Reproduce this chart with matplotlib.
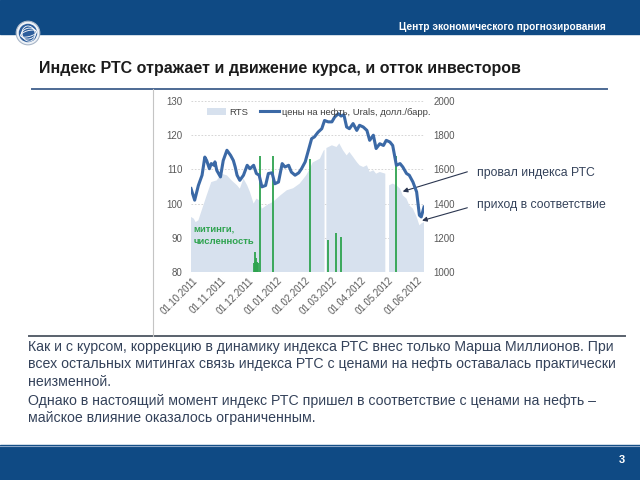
import numpy as np
import matplotlib
matplotlib.use("Agg")
import matplotlib.pyplot as plt
import matplotlib.dates as mdates
from matplotlib.patches import Rectangle, Circle, Ellipse, Patch
from matplotlib.lines import Line2D

plt.rcParams['font.family'] = ['Liberation Sans', 'DejaVu Sans']

# oil price, Urals, $/bbl (left axis)
oil_dates = ["2011-09-26", "2011-09-30", "2011-10-04", "2011-10-08", "2011-10-11", "2011-10-13",
             "2011-10-16", "2011-10-18", "2011-10-21", "2011-10-22", "2011-10-24", "2011-10-28",
             "2011-10-31", "2011-11-04", "2011-11-08", "2011-11-11", "2011-11-13", "2011-11-15",
             "2011-11-18", "2011-11-22", "2011-11-26", "2011-11-29", "2011-12-03", "2011-12-06",
             "2011-12-09", "2011-12-12", "2011-12-16", "2011-12-19", "2011-12-23", "2011-12-26",
             "2011-12-30", "2012-01-03", "2012-01-06", "2012-01-10", "2012-01-13", "2012-01-17",
             "2012-01-21", "2012-01-24", "2012-01-28", "2012-01-31", "2012-02-04", "2012-02-07",
             "2012-02-11", "2012-02-15", "2012-02-18", "2012-02-22", "2012-02-26", "2012-02-29",
             "2012-03-04", "2012-03-07", "2012-03-10", "2012-03-13", "2012-03-16", "2012-03-20",
             "2012-03-24", "2012-03-27", "2012-03-31", "2012-04-04", "2012-04-07", "2012-04-11",
             "2012-04-14", "2012-04-18", "2012-04-22", "2012-04-25", "2012-04-29", "2012-05-02",
             "2012-05-06", "2012-05-10", "2012-05-13", "2012-05-17", "2012-05-20", "2012-05-24",
             "2012-05-28", "2012-05-31", "2012-06-02", "2012-06-05"]
oil_price = [104.4, 101.0, 105.3, 108.3, 113.6, 112.6,
             110.2, 111.7, 111.2, 112.2, 109.7, 107.8,
             112.6, 115.6, 114.1, 112.6, 110.7, 108.3,
             106.8, 108.3, 111.2, 110.2, 111.2, 108.8,
             108.3, 104.9, 105.3, 108.8, 109.0, 105.8,
             106.3, 111.7, 110.7, 111.2, 109.2, 108.3,
             109.0, 110.2, 112.2, 115.1, 119.0, 119.5,
             120.9, 121.9, 124.3, 123.9, 123.9, 125.3,
             126.3, 125.6, 126.0, 122.4, 121.9, 123.4,
             121.4, 122.9, 122.4, 121.4, 118.5, 120.0,
             116.1, 117.5, 117.0, 118.5, 118.0, 117.0,
             111.2, 111.7, 110.7, 108.8, 108.3, 106.3,
             103.4, 96.6, 96.1, 99.0]

# RTS index (right axis), nan = no trading
rts_dates = ["2011-09-26", "2011-09-29", "2011-10-01", "2011-10-04", "2011-10-07", "2011-10-13",
             "2011-10-18", "2011-10-24", "2011-10-29", "2011-11-04", "2011-11-09", "2011-11-15",
             "2011-11-18", "2011-11-22", "2011-11-26", "2011-11-29", "2011-12-03", "2011-12-06",
             "2011-12-09", "2011-12-12", "2011-12-17", "2011-12-24", "2012-01-01", "2012-01-08",
             "2012-01-15", "2012-01-22", "2012-01-29", "2012-02-02", "2012-02-05", "2012-02-13",
             "2012-02-17", "2012-02-18", "2012-02-19", "2012-02-20", "2012-02-26", "2012-03-02",
             "2012-03-05", "2012-03-09", "2012-03-13", "2012-03-16", "2012-03-20", "2012-03-24",
             "2012-03-27", "2012-03-31", "2012-04-04", "2012-04-07", "2012-04-11", "2012-04-14",
             "2012-04-18", "2012-04-24", "2012-04-25", "2012-04-28", "2012-05-02", "2012-05-06",
             "2012-05-10", "2012-05-13", "2012-05-17", "2012-05-20", "2012-05-24", "2012-05-28",
             "2012-05-31", "2012-06-02", "2012-06-05"]
rts_value = [1322, 1312, 1292, 1302, 1351, 1448,
             1526, 1536, 1575, 1565, 1536, 1507,
             1487, 1546, 1507, 1468, 1400, 1429,
             1420, 1370, 1390, 1410, 1448, 1478,
             1490, 1517, 1565, 1604, 1640, 1663,
             1710, 1715, np.nan, 1725, 1741, 1731,
             1752, 1712, 1682, 1702, 1673, 1643,
             1624, 1614, 1624, 1585, 1595, 1575,
             1585, 1575, np.nan, 1507, 1517, 1507,
             1487, 1448, 1429, 1390, 1370, 1322,
             1273, 1283, 1292]

# rallies, bar height read on the left scale
rally_dates = ["2011-12-03", "2011-12-04", "2011-12-05", "2011-12-06", "2011-12-07", "2011-12-08",
               "2011-12-10", "2011-12-24", "2012-02-02", "2012-02-22", "2012-03-01", "2012-03-07",
               "2012-05-06"]
rally_level = [82.5, 83.0, 85.8, 84.0, 83.0, 82.6,
               113.9, 113.9, 113.0, 89.3, 91.4, 90.2,
               113.9]

xticks = ["2011-10-01", "2011-11-01", "2011-12-01", "2012-01-01", "2012-02-01",
          "2012-03-01", "2012-04-01", "2012-05-01", "2012-06-01"]

NAVY = '#0f4a84'
AREA = '#d7e1ee'
OIL = '#3b69a6'
GREEN = '#2ea34f'
TXT = '#34425a'
W, H = 640, 480


def fx(x):
    return x / W


def fy(y):
    return 1 - y / H


fig = plt.figure(figsize=(6.4, 4.8), dpi=100)

# header and footer bands
fig.add_artist(Rectangle((0, fy(34)), 1, 34 / H, transform=fig.transFigure, color=NAVY, zorder=0))
fig.add_artist(Rectangle((0, 0), 1, 35 / H, transform=fig.transFigure, color=NAVY, zorder=0))
fig.add_artist(Line2D([0, 1], [fy(445.5), fy(445.5)], color='#8aa6c8', lw=0.8))
fig.text(fx(606), fy(27), 'Центр экономического прогнозирования', color='white',
         fontsize=7.3, fontweight='bold', ha='right', va='center')
fig.text(fx(622), fy(460), '3', color='white', fontsize=8, fontweight='bold', ha='center', va='center')

# logo
lax = fig.add_axes([fx(15), fy(46), 26 / W, 26 / H])
lax.set_xlim(-1.1, 1.1)
lax.set_ylim(-1.1, 1.1)
lax.set_aspect('equal')
lax.axis('off')
lax.add_patch(Circle((0, 0), 1.0, fc='#eef2f7', ec='#a8b6c8', lw=0.8))
lax.add_patch(Circle((0, 0), 0.78, fc='#2d5e9c', ec='none'))
for w, h in [(1.4, 0.5), (1.3, 0.9), (1.1, 1.3)]:
    lax.add_patch(Ellipse((0.05, -0.05), w, h, angle=15, fc='none', ec='white', lw=0.6))

# title and separators
fig.text(fx(39), fy(69), 'Индекс РТС отражает и движение курса, и отток инвесторов',
         fontsize=11.55, fontweight='bold', ha='left', va='center', color='#1c1c1c')
fig.add_artist(Line2D([fx(32), fx(607)], [fy(89), fy(89)], color='#4d6a94', lw=1.4))
fig.add_artist(Line2D([fx(29), fx(625)], [fy(336), fy(336)], color='#59616c', lw=1.4))
fig.add_artist(Line2D([fx(152.7), fx(152.7)], [fy(89), fy(336)], color='#c4c4c4', lw=0.8))

# chart
ax = fig.add_axes([fx(191), fy(272), (424 - 191) / W, (272 - 101) / H])
axr = ax.twinx()
ax.set_zorder(axr.get_zorder() + 1)
ax.patch.set_visible(False)

rd = np.array(rts_dates, dtype='datetime64[D]')
axr.fill_between(rd, 1000, np.array(rts_value, dtype=float), color=AREA, lw=0)
axr.set_ylim(1000, 2000)
axr.set_yticks(range(1000, 2001, 200))
axr.yaxis.grid(True, color='#cfcfcf', lw=0.6, linestyle=(0, (2, 2)))
axr.set_axisbelow(True)

ax.vlines(np.array(rally_dates, dtype='datetime64[D]'), 80, rally_level, color=GREEN, lw=1.3)
ax.plot(np.array(oil_dates, dtype='datetime64[D]'), oil_price, color=OIL, lw=2.2)
ax.set_ylim(80, 130)
ax.set_yticks(range(80, 131, 10))
ax.set_xlim(np.datetime64('2011-09-26'), np.datetime64('2012-06-05'))
ax.set_xticks(np.array(xticks, dtype='datetime64[D]'))
ax.xaxis.set_major_formatter(mdates.DateFormatter('%d.%m.%Y'))

for a in (ax, axr):
    for s in a.spines.values():
        s.set_visible(False)
    a.tick_params(length=0, labelsize=7, labelcolor='#595959')
ax.tick_params(axis='y', pad=6)
axr.tick_params(axis='y', pad=7)
ax.tick_params(axis='x', pad=5, labelsize=7)
for lbl in ax.get_xticklabels():
    lbl.set_rotation(45)
    lbl.set_ha('right')
    lbl.set_va('center')
    lbl.set_rotation_mode('anchor')

handles = [Patch(fc=AREA, ec='none'), Line2D([], [], color=OIL, lw=2.2)]
ax.legend(handles, ['RTS', 'цены на нефть, Urals, долл./барр.'], loc='center left',
          bbox_to_anchor=(0.07, 0.935), ncol=2, frameon=False, fontsize=6.8,
          handlelength=2.0, handletextpad=0.3, columnspacing=1.3, borderpad=0,
          borderaxespad=0, labelcolor='#404040')

ax.text(0.01, 0.215, 'митинги,\nчисленность', transform=ax.transAxes, color=GREEN,
        fontsize=6.8, fontweight='bold', ha='left', va='center', linespacing=1.45)

# callouts
arrow = dict(arrowstyle='-|>', color='#2b3650', lw=0.8, mutation_scale=7)
axr.annotate('', xy=(np.datetime64('2012-05-10'), 1466), xycoords='data',
             xytext=(fx(470), fy(171)), textcoords='figure fraction', arrowprops=arrow)
axr.annotate('', xy=(np.datetime64('2012-05-31'), 1296), xycoords='data',
             xytext=(fx(470), fy(207)), textcoords='figure fraction', arrowprops=arrow)
fig.text(fx(477), fy(172.7), 'провал индекса РТС', fontsize=8.8, color=TXT, ha='left', va='center')
fig.text(fx(477), fy(205), 'приход в соответствие', fontsize=8.8, color=TXT, ha='left', va='center')

# body text
body = [
    (347, 'Как и с курсом, коррекцию в динамику индекса РТС внес только Марша Миллионов. При'),
    (364, 'всех остальных митингах связь индекса РТС с ценами на нефть оставалась практически'),
    (382, 'неизменной.'),
    (401, 'Однако в настоящий момент индекс РТС пришел в соответствие с ценами на нефть –'),
    (418, 'майское влияние оказалось ограниченным.'),
]
for y, line in body:
    fig.text(fx(28), fy(y), line, fontsize=10.2, color=TXT, ha='left', va='center')

fig.savefig('out.png', dpi=100)
